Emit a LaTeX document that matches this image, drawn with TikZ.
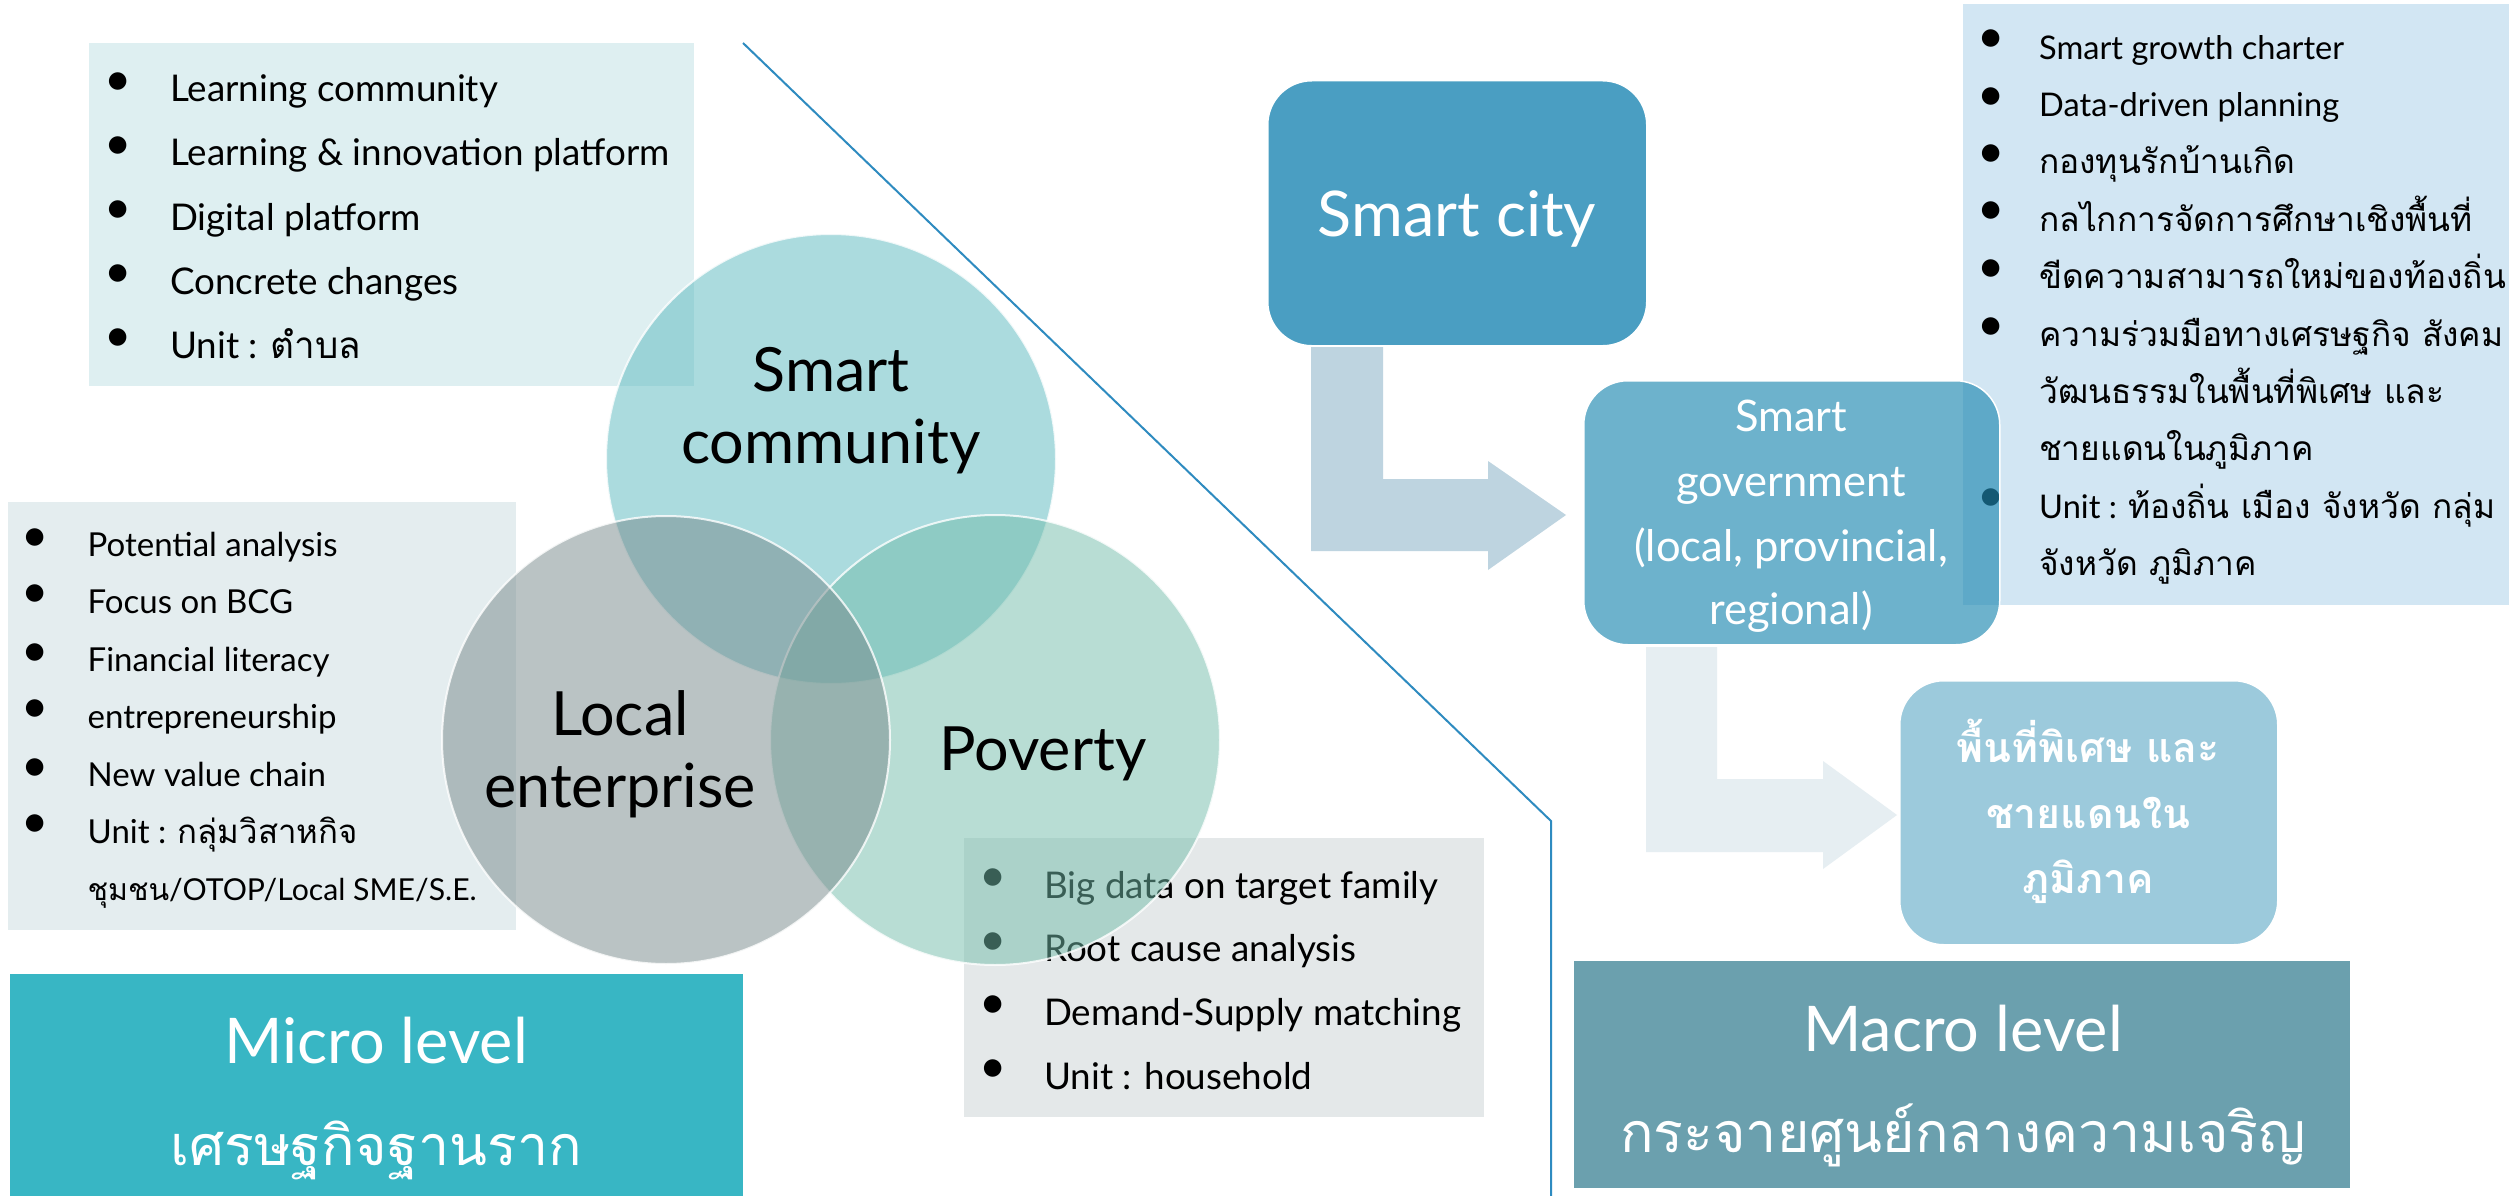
\documentclass[tikz,border=0pt]{standalone}
\usepackage{fontspec}
\setmainfont{Lato}
\newfontfamily\thaif[Script=Thai]{Loma}
\definecolor{boxA}{HTML}{DEEFF1}
\definecolor{boxB}{HTML}{E4EDEF}
\definecolor{boxC}{HTML}{E4E8E9}
\definecolor{boxI}{HTML}{D2E6F3}
\definecolor{microC}{HTML}{38B6C4}
\definecolor{macroC}{HTML}{6BA0AE}
\definecolor{cityC}{HTML}{4A9EC2}
\definecolor{govC}{HTML}{2089B2}
\definecolor{specC}{HTML}{9CCADC}
\definecolor{arrA}{HTML}{BED4E0}
\definecolor{arrB}{HTML}{E6EEF2}
\definecolor{lineC}{HTML}{2E8BC0}
\definecolor{scC}{HTML}{59B9BF}
\definecolor{leC}{HTML}{77898B}
\definecolor{pvC}{HTML}{73BDAB}
\newcommand\fsA{\fontsize{36.8}{44}\selectfont}
\newcommand\fsB{\fontsize{33}{40}\selectfont}
\newcommand\fsBs{\fontsize{30.2}{40}\selectfont}
\newcommand\fsC{\fontsize{36.8}{44}\selectfont}
\newcommand\fsI{\fontsize{32.6}{40}\selectfont}
\newcommand\fsIth{\fontsize{33.5}{40}\selectfont}
\newcommand\fsBul{\fontsize{47}{47}\selectfont}
\newcommand\fsBig{\fontsize{63}{75}\selectfont}
\newcommand\fsThBig{\fontsize{55.5}{66}\selectfont}
\newcommand\fsGov{\fontsize{43.5}{52}\selectfont}
\newcommand\fsVenn{\fontsize{61}{72}\selectfont}
\newcommand\fsSpec{\fontsize{41}{48}\selectfont}
\tikzset{
  bg/.style={draw=none, inner sep=0pt, outer sep=0pt},
  lst/.style={anchor=base west, inner sep=0pt, text=black},
  blt/.style={anchor=center, inner sep=0pt, text=black, font=\fsBul},
  venn/.style={circle, inner sep=0pt, minimum size=#1, draw=white, line width=2pt, fill opacity=.5, draw opacity=.8},
  lbl/.style={anchor=base, inner sep=0pt},
  rbox/.style={rectangle, rounded corners=44pt, inner sep=0pt, draw=white, line width=1.5pt},
}
\begin{document}
\begin{tikzpicture}[x=1pt,y=-1pt]
\useasboundingbox (0,0) rectangle (2509,1196);
\fill[white] (0,0) rectangle (2509,1196);

% ---------- list A ----------
\node[bg, fill=boxA, minimum width=605pt, minimum height=343pt, anchor=north west] (boxA) at (89,43) {};
\node[blt] (a1b) at (118,84.2) {•};
\node[lst,font=\fsA] (a1) at (170,101.7) {Learning community};
\node[blt] (a2b) at (118,148.2) {•};
\node[lst,font=\fsA] (a2) at (170,165.7) {Learning \& innovation platform};
\node[blt] (a3b) at (118,212.5) {•};
\node[lst,font=\fsA] (a3) at (170,230) {Digital platform};
\node[blt] (a4b) at (118,276.5) {•};
\node[lst,font=\fsA] (a4) at (170,294) {Concrete changes};
\node[blt] (a5b) at (118,340.5) {•};
\node[lst,font=\fsA] (a5) at (170,358) {Unit : {\thaif ตำบล}};

% ---------- list B ----------
\node[bg, fill=boxB, minimum width=508pt, minimum height=428pt, anchor=north west] (boxB) at (8,502) {};
\node[blt] (b1b) at (35,540) {•};
\node[lst,font=\fsB] (b1) at (87.5,556.7) {Potential analysis};
\node[blt] (b2b) at (35,596.6) {•};
\node[lst,font=\fsB] (b2) at (87.5,613.3) {Focus on BCG};
\node[blt] (b3b) at (35,655) {•};
\node[lst,font=\fsB] (b3) at (87.5,671.7) {Financial literacy};
\node[blt] (b4b) at (35,711.6) {•};
\node[lst,font=\fsB] (b4) at (87.5,728.3) {entrepreneurship};
\node[blt] (b5b) at (35,770) {•};
\node[lst,font=\fsB] (b5) at (87.5,786.7) {New value chain};
\node[blt] (b6b) at (35,826.6) {•};
\node[lst,font=\fsB] (b6) at (87.5,843.3) {Unit : {\thaif กลุ่มวิสาหกิจ}};
\node[lst,font=\fsBs] (b7) at (87.5,900.7) {{\thaif ชุมชน}/OTOP/Local SME/S.E.};

% ---------- list C ----------
\node[bg, fill=boxC, minimum width=520pt, minimum height=279pt, anchor=north west] (boxC) at (964,838) {};
\node[blt] (c1b) at (993,880.3) {•};
\node[lst,font=\fsC] (c1) at (1044,898.3) {Big data on target family};
\node[blt] (c2b) at (993,943.7) {•};
\node[lst,font=\fsC] (c2) at (1044,961.7) {Root cause analysis};
\node[blt] (c3b) at (993,1007) {•};
\node[lst,font=\fsC] (c3) at (1044,1025) {Demand-Supply matching};
\node[blt] (c4b) at (993,1071.3) {•};
\node[lst,font=\fsC] (c4) at (1044,1089.3) {Unit : household};

% ---------- list I (right) ----------
\node[bg, fill=boxI, minimum width=560pt, minimum height=601pt, anchor=north west] (boxI) at (1963,4) {};
\node[blt] (i1b) at (1991,41.5) {•};
\node[lst,font=\fsI] (i1) at (2039,59.3) {Smart growth charter};
\node[blt] (i2b) at (1991,98.8) {•};
\node[lst,font=\fsI] (i2) at (2039,116.6) {Data-driven planning};
\node[blt] (i3b) at (1991,156.2) {•};
\node[lst,font=\fsIth] (i3) at (2039,174) {\thaif กองทุนรักบ้านเกิด};
\node[blt] (i4b) at (1991,213.5) {•};
\node[lst,font=\fsIth] (i4) at (2039,231.3) {\thaif กลไกการจัดการศึกษาเชิงพื้นที่};
\node[blt] (i5b) at (1991,270.9) {•};
\node[lst,font=\fsIth] (i5) at (2039,288.7) {\thaif ขีดความสามารถใหม่ของท้องถิ่น};
\node[blt] (i6b) at (1991,329) {•};
\node[lst,font=\fsIth] (i6) at (2039,346.8) {\thaif ความร่วมมือทางเศรษฐกิจ สังคม};
\node[lst,font=\fsIth] (i7) at (2039,403.3) {\thaif วัฒนธรรมในพื้นที่พิเศษ และ};
\node[lst,font=\fsIth] (i8) at (2039,460.7) {\thaif ชายแดนในภูมิภาค};
\node[blt] (i9b) at (1991,500.2) {•};
\node[lst,font=\fsI] (i9) at (2039,518) {Unit : {\fsIth\thaif ท้องถิ่น เมือง จังหวัด กลุ่ม}};
\node[lst,font=\fsIth] (i10) at (2039,575.3) {\thaif จังหวัด ภูมิภาค};

% ---------- divider line ----------
\coordinate (d1) at (743,43);
\coordinate (d2) at (1551,821);
\coordinate (d3) at (1551,1200);
\draw[lineC, line width=2pt] (d1) -- (d2) -- (d3);

% ---------- Venn circles ----------
\node[venn=450pt, fill=scC] (sc) at (831,459) {};
\node[venn=450pt, fill=pvC] (pv) at (995,740) {};
\node[venn=448pt, fill=leC] (le) at (666,740) {};
\node[lbl,font=\fsVenn] (sc1) at (831,391) {Smart};
\node[lbl,font=\fsVenn] (sc2) at (831,463) {community};
\node[lbl,font=\fsVenn] (le1) at (620,735) {Local};
\node[lbl,font=\fsVenn] (le2) at (620,807) {enterprise};
\node[lbl,font=\fsVenn] (pv1) at (1043,770) {Poverty};

% ---------- Micro level ----------
\node[bg, fill=microC, minimum width=733pt, minimum height=240pt, anchor=north west] (micro) at (10,974) {};
\node[lbl,font=\fsBig,text=white] (micro1) at (376,1063) {Micro level};
\node[lbl,font=\fsThBig,text=white] (micro2) at (376,1165) {\thaif เศรษฐกิจฐานราก};

% ---------- right flow ----------
\node[rbox, fill=cityC, minimum width=379pt, minimum height=265pt, anchor=north west] (city) at (1267,80) {};
\node[lbl,font=\fsBig,text=white] (city1) at (1457,236) {Smart city};

\fill[arrA] (1311,347) -- (1383,347) -- (1383,479) -- (1488,479) -- (1488,461)
  -- (1566,515) -- (1488,570) -- (1488,551) -- (1311,551) -- cycle;

\node[rbox, fill=govC, fill opacity=.65, minimum width=416pt, minimum height=264pt, anchor=north west] (gov) at (1583,380) {};
\node[lbl,font=\fsGov,text=white] (gov1) at (1791,431) {Smart};
\node[lbl,font=\fsGov,text=white] (gov2) at (1791,496) {government};
\node[lbl,font=\fsGov,text=white] (gov3) at (1791,561) {(local, provincial,};
\node[lbl,font=\fsGov,text=white] (gov4) at (1791,624.5) {regional)};

\fill[arrB] (1646,647) -- (1717,647) -- (1717,779) -- (1823,779) -- (1823,761)
  -- (1897,815) -- (1823,869) -- (1823,852) -- (1646,852) -- cycle;

\node[rbox, fill=specC, minimum width=378pt, minimum height=264pt, anchor=north west] (spec) at (1899,680) {};
\node[lbl,font=\fsSpec\bfseries,text=white] (spec1) at (2088,762) {\thaif พื้นที่พิเศษ และ};
\node[lbl,font=\fsSpec\bfseries,text=white] (spec2) at (2088,828) {\thaif ชายแดนใน};
\node[lbl,font=\fsSpec\bfseries,text=white] (spec3) at (2088,893.5) {\thaif ภูมิภาค};

% ---------- Macro level ----------
\node[bg, fill=macroC, minimum width=776pt, minimum height=227pt, anchor=north west] (macro) at (1574,961) {};
\node[lbl,font=\fsBig,text=white] (macro1) at (1963,1051) {Macro level};
\node[lbl,font=\fsThBig,text=white] (macro2) at (1963,1152) {\thaif กระจายศูนย์กลางความเจริญ};
\end{tikzpicture}
\end{document}
